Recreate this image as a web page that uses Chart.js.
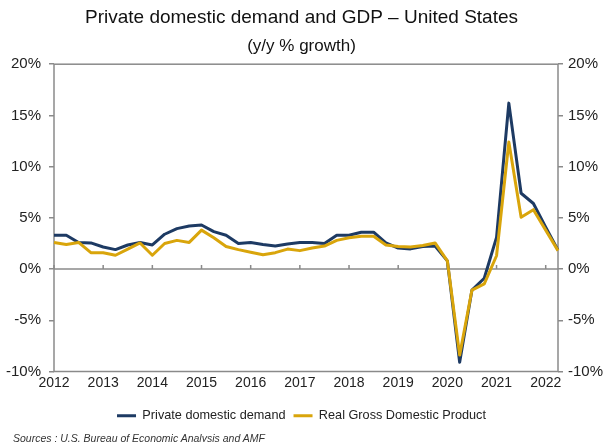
<!DOCTYPE html>
<html><head><meta charset="utf-8">
<script src="https://cdn.jsdelivr.net/npm/chart.js@4"></script>
<style>
html,body{margin:0;padding:0;background:#fff}
#wrap{position:relative;width:603px;height:442px;overflow:hidden}
#src{position:absolute;left:13px;top:432px;font:italic 10.5px "Liberation Sans",Arial,sans-serif;line-height:12px;color:#333;white-space:nowrap}
</style>
</head><body>
<div id="wrap"><canvas id="c" width="603" height="442"></canvas><div id="src">Sources : U.S. Bureau of Economic Analysis and AMF</div></div>
<script>
const quarters = [
 "2012Q1","2012Q2","2012Q3","2012Q4","2013Q1","2013Q2","2013Q3","2013Q4",
 "2014Q1","2014Q2","2014Q3","2014Q4","2015Q1","2015Q2","2015Q3","2015Q4",
 "2016Q1","2016Q2","2016Q3","2016Q4","2017Q1","2017Q2","2017Q3","2017Q4",
 "2018Q1","2018Q2","2018Q3","2018Q4","2019Q1","2019Q2","2019Q3","2019Q4",
 "2020Q1","2020Q2","2020Q3","2020Q4","2021Q1","2021Q2","2021Q3","2021Q4",
 "2022Q1","2022Q2"];
const privateDomesticDemand = [
 3.3,3.3,2.6,2.55,2.15,1.9,2.35,2.6,
 2.35,3.4,3.95,4.2,4.3,3.65,3.3,2.5,
 2.6,2.4,2.25,2.45,2.6,2.6,2.5,3.3,
 3.3,3.6,3.6,2.55,2.05,1.97,2.2,2.25,
 0.8,-9.1,-2.05,-0.9,3.1,16.2,7.4,6.4,
 4.1,1.85];
const realGDP = [
 2.6,2.4,2.6,1.6,1.6,1.35,1.95,2.55,
 1.35,2.5,2.8,2.6,3.8,3.05,2.2,1.9,
 1.65,1.4,1.6,1.95,1.8,2.05,2.25,2.8,
 3.05,3.2,3.2,2.35,2.2,2.15,2.3,2.55,
 0.8,-8.4,-2.05,-1.45,1.3,12.4,5.05,5.8,
 3.8,1.8];
const yTicks = [-10,-5,0,5,10,15,20];

const AXIS = '#8a8a8a';
const FONT = '"Liberation Sans", Arial, sans-serif';

const framePlugin = {
  id: 'frame',
  beforeDatasetsDraw(chart) {
    const {ctx, chartArea: a, scales: {x, y}} = chart;
    ctx.save();
    ctx.strokeStyle = AXIS;
    ctx.lineWidth = 1.5;
    ctx.strokeRect(a.left, a.top, a.right - a.left, a.bottom - a.top);
    const y0 = y.getPixelForValue(0);
    ctx.beginPath();
    ctx.moveTo(a.left, y0); ctx.lineTo(a.right, y0);
    quarters.forEach((q, i) => {
      if (q.endsWith('Q1')) {
        const px = x.getPixelForValue(i);
        ctx.moveTo(px, y0); ctx.lineTo(px, y0 - 4);
      }
    });
    ctx.stroke();
    ctx.restore();
  }
};

function yOpts(pos, width, pad) {
  return {
    position: pos, min: -10, max: 20,
    afterFit: s => { s.width = width; },
    afterBuildTicks: s => { s.ticks = yTicks.map(v => ({value: v})); },
    grid: {display: true, drawOnChartArea: false, tickLength: 5, tickColor: AXIS, lineWidth: 1.5},
    border: {display: false},
    ticks: {font: {family: FONT, size: 15}, color: '#222', padding: pad, callback: v => v + '%'}
  };
}

new Chart(document.getElementById('c'), {
  type: 'line',
  data: {
    labels: quarters,
    datasets: [
      {label: 'Private domestic demand', data: privateDomesticDemand, borderColor: '#1d3a63', backgroundColor: '#1d3a63', borderWidth: 3, borderJoinStyle: 'round', pointRadius: 0, tension: 0, order: 2},
      {label: 'Real Gross Domestic Product', data: realGDP, borderColor: '#d9a50b', backgroundColor: '#d9a50b', borderWidth: 3, borderJoinStyle: 'round', pointRadius: 0, tension: 0, order: 1}
    ]
  },
  options: {
    responsive: false, animation: false,
    layout: {padding: {top: 0, bottom: 10, left: 0, right: 0}},
    plugins: {
      title: {display: true, text: 'Private domestic demand and GDP – United States', color: '#111', font: {family: FONT, size: 19, weight: 'normal'}, padding: {top: 6, bottom: 7}},
      subtitle: {display: true, text: '(y/y % growth)', color: '#111', font: {family: FONT, size: 17, weight: 'normal'}, padding: {top: 0, bottom: 8}},
      legend: {position: 'bottom',
        labels: {sort: (a, b) => a.datasetIndex - b.datasetIndex,
          usePointStyle: true, pointStyle: 'line', pointStyleWidth: 19, boxHeight: 3, font: {family: FONT, size: 12.7}, color: '#222', padding: 8}},
      tooltip: {enabled: false}
    },
    scales: {
      x: {
        offset: false,
        afterFit: s => { s.height += 7; },
        grid: {display: false, drawTicks: false}, border: {display: false},
        ticks: {autoSkip: false, maxRotation: 0, minRotation: 0, font: {family: FONT, size: 14}, color: '#222', padding: 3,
          callback: (v, i) => quarters[i].endsWith('Q1') ? quarters[i].slice(0, 4) : ''}
      },
      y: yOpts('left', 54, 8),
      y2: yOpts('right', 45, 5)
    }
  },
  plugins: [framePlugin]
});
</script>
</body></html>
